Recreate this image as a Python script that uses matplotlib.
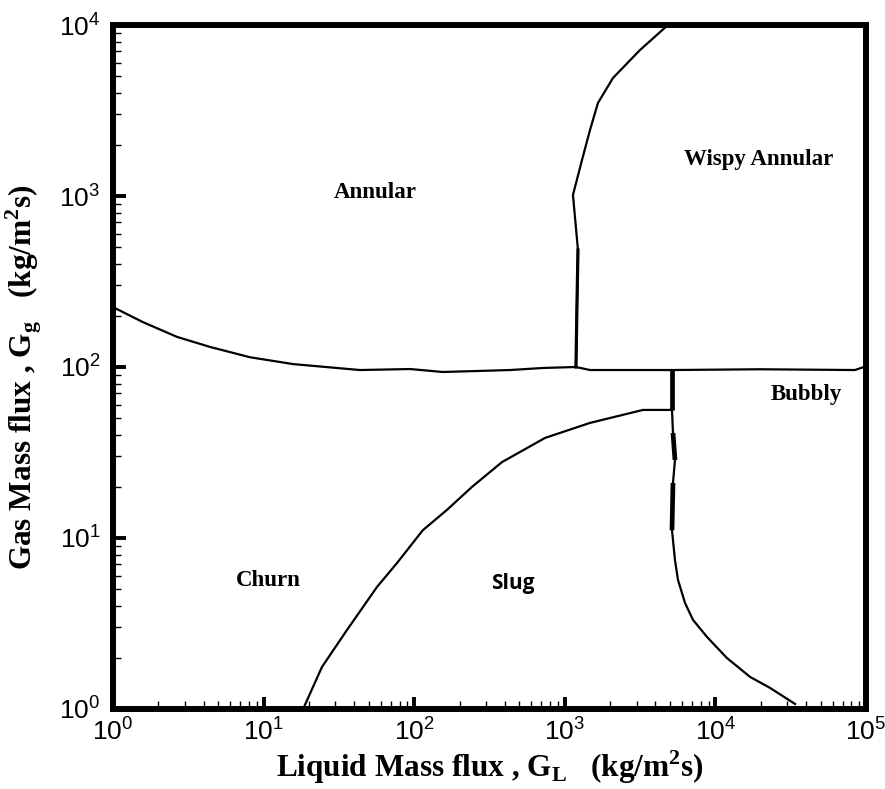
import matplotlib
matplotlib.use("Agg")
import matplotlib.pyplot as plt
from matplotlib.ticker import LogLocator, LogFormatterSciNotation, NullFormatter

plt.rcParams['font.family'] = ['Liberation Sans', 'DejaVu Sans']
plt.rcParams['mathtext.fontset'] = 'custom'
plt.rcParams['mathtext.rm'] = 'Liberation Sans'
plt.rcParams['mathtext.it'] = 'Liberation Sans:italic'
plt.rcParams['mathtext.bf'] = 'Liberation Sans:bold'

# Flow-regime boundaries: liquid mass flux G_L vs gas mass flux G_g (kg/m^2 s)
# Annular/churn boundary, continuing as the annular-wispy / bubbly boundary
upper_gl = [1.0, 1.58, 2.66, 4.41, 8.13, 15.7, 43.6, 93.8, 155, 433, 716, 1186,
            1470, 5070, 19800, 84500, 100000]
upper_gg = [224, 183, 150, 131, 114, 104, 96, 97.3, 93.5, 96, 98.7, 100,
            96, 96, 97, 96, 101]

# Annular / wispy annular boundary
wispy_gl = [1186, 1205, 1223, 1133, 1301, 1470, 1660, 2088, 3157, 4842]
wispy_gg = [100, 237, 483, 1014, 1624, 2432, 3499, 4898, 7140, 10000]

# Churn / slug boundary
slug_gl = [18.3, 24.4, 35.8, 56.6, 76.9, 114, 165, 242, 383, 740, 1470, 3305, 5150]
slug_gg = [1.0, 1.76, 2.90, 5.17, 7.14, 11.1, 14.6, 19.9, 27.8, 38.5, 47.1, 56.1, 56.1]

# Short churn / bubbly link between the two horizontal boundaries
link_gl = [5150, 5150]
link_gg = [56.1, 96]

# Slug / bubbly boundary
bubbly_gl = [5150, 5228, 5390, 5228, 5150, 5390, 5645, 6285, 7100, 8790, 11900,
             17000, 23000, 33800]
bubbly_gg = [56.1, 41.1, 28.6, 21.0, 11.1, 7.43, 5.68, 4.17, 3.32, 2.64, 1.99,
             1.54, 1.33, 1.07]

# Regime names
regime_names = ["Annular", "Wispy Annular", "Bubbly", "Churn", "Slug"]
regime_gl = [55, 19500, 40000, 10.7, 453]
regime_gg = [1042, 1624, 68.6, 5.68, 5.4]

fig = plt.figure(figsize=(8.85, 7.89), dpi=100)
ax = fig.add_axes([113 / 885, 1 - 709 / 789, 753 / 885, 684 / 789])
ax.set_xscale('log')
ax.set_yscale('log')
ax.set_xlim(1, 1e5)
ax.set_ylim(1, 1e4)

lw = 1.6
ax.plot(upper_gl, upper_gg, color='black', lw=lw, solid_capstyle='butt')
ax.plot(wispy_gl, wispy_gg, color='black', lw=lw)
ax.plot(wispy_gl[:3], wispy_gg[:3], color='black', lw=2.3)
ax.plot(slug_gl, slug_gg, color='black', lw=lw)
ax.plot(link_gl, link_gg, color='black', lw=3.4, solid_capstyle='butt')
ax.plot(bubbly_gl, bubbly_gg, color='black', lw=lw)
ax.plot(bubbly_gl[1:3], bubbly_gg[1:3], color='black', lw=3.4, solid_capstyle='butt')
ax.plot(bubbly_gl[3:5], bubbly_gg[3:5], color='black', lw=3.4, solid_capstyle='butt')

serif_bold = dict(family=['Liberation Serif', 'DejaVu Serif'], weight='bold', size=16.5)
for name, gl, gg in zip(regime_names, regime_gl, regime_gg):
    if name == "Slug":
        ax.text(gl, gg, name, ha='center', va='center', family=['Open Sans', 'DejaVu Sans'],
                weight='bold', size=15)
    else:
        ax.text(gl, gg, name, ha='center', va='center', **serif_bold)

for side in ['left', 'bottom', 'right', 'top']:
    ax.spines[side].set_linewidth(4.3)

ax.xaxis.set_major_locator(LogLocator(base=10, numticks=10))
ax.yaxis.set_major_locator(LogLocator(base=10, numticks=10))
ax.xaxis.set_minor_locator(LogLocator(base=10, subs=range(2, 10), numticks=20))
ax.yaxis.set_minor_locator(LogLocator(base=10, subs=range(2, 10), numticks=20))
ax.xaxis.set_major_formatter(LogFormatterSciNotation())
ax.yaxis.set_major_formatter(LogFormatterSciNotation())
ax.xaxis.set_minor_formatter(NullFormatter())
ax.yaxis.set_minor_formatter(NullFormatter())

ax.tick_params(which='major', direction='in', length=9, width=2.8, labelsize=19,
               top=False, right=False)
ax.tick_params(axis='x', which='major', pad=7)
ax.tick_params(axis='y', which='major', pad=9)
ax.tick_params(which='minor', direction='in', length=5.5, width=1.0, top=False, right=False)

label_font = dict(family=['Liberation Serif', 'DejaVu Serif'], weight='bold', size=22.5)
ax.set_xlabel(r'Liquid Mass flux , G$_\mathregular{L}$   (kg/m$^\mathregular{2}$s)',
              **label_font)
ax.set_ylabel(r'Gas Mass flux , G$_\mathregular{g}$   (kg/m$^\mathregular{2}$s)',
              **label_font)
ax.xaxis.set_label_coords(0.5, -0.058)
ax.yaxis.set_label_coords(-0.091, 0.485)

fig.savefig('out.png', dpi=100)
